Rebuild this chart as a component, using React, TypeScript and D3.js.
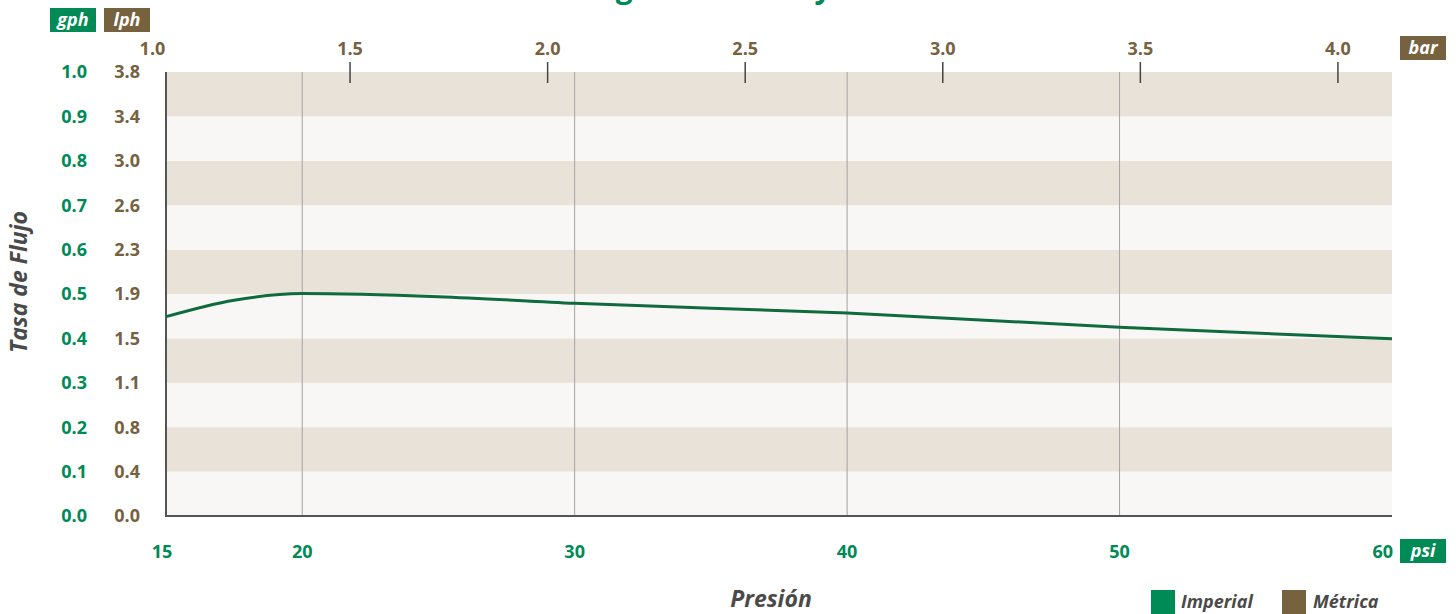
import React from "react";
import * as d3 from "d3";

const psiTicks = [15, 20, 30, 40, 50, 60];
const barTicks = [1.0, 1.5, 2.0, 2.5, 3.0, 3.5, 4.0];
const gphTicks = [0.0, 0.1, 0.2, 0.3, 0.4, 0.5, 0.6, 0.7, 0.8, 0.9, 1.0];
const lphLabels = ["0.0", "0.4", "0.8", "1.1", "1.5", "1.9", "2.3", "2.6", "3.0", "3.4", "3.8"];
const gridPsi = [20, 30, 40, 50];
const curvePsi = [15, 17.5, 20, 25, 30, 40, 50, 60];
const curveGph = [0.449, 0.486, 0.501, 0.494, 0.479, 0.457, 0.425, 0.399];
const PSI_PER_BAR = 14.5038;

const GREEN = "#008a55";
const BROWN = "#76623f";
const LINE = "#0f6b3d";
const GRAY_TEXT = "#4a4a4a";
const FONT = "'Open Sans', sans-serif";

export default function App() {
  const W = 1456, H = 614;
  const x = d3.scaleLinear().domain([15, 60]).range([166, 1392]);
  const y = d3.scaleLinear().domain([0, 1]).range([516, 72]);
  const bands = gphTicks.slice(0, -1).map((v, i) => ({ v0: v, v1: gphTicks[i + 1], i }));
  const line = d3
    .line<number>()
    .x((_, i) => x(curvePsi[i]))
    .y((d) => y(d))
    .curve(d3.curveMonotoneX);

  return (
    <div style={{ position: "absolute", left: 0, top: 0 }}>
      <svg width={W} height={H} style={{ display: "block", fontFamily: FONT }}>
        {/* title (mostly off-canvas) */}
        <text x={755} y={-2} textAnchor="middle" fill={GREEN} fontSize={30} fontWeight={700}>
          Rango de Caudal y Presión
        </text>
        {/* bands */}
        {bands.map((b) => (
          <rect
            key={b.i}
            x={x(15)}
            y={y(b.v1)}
            width={x(60) - x(15)}
            height={y(b.v0) - y(b.v1)}
            fill={b.i % 2 === 0 ? "#f8f7f5" : "#e9e2d8"}
          />
        ))}
        {/* vertical gridlines */}
        {gridPsi.map((p) => (
          <line key={p} x1={x(p)} x2={x(p)} y1={y(1)} y2={y(0)} stroke="#a3a3a3" strokeWidth={1} />
        ))}
        {/* axes */}
        <line x1={x(15)} x2={x(15)} y1={y(1)} y2={y(0) + 1} stroke="#555" strokeWidth={2} />
        <line x1={x(15)} x2={x(60)} y1={y(0)} y2={y(0)} stroke="#555" strokeWidth={2} />
        {/* top bar ticks */}
        {barTicks.map((b, i) => {
          const px = x(b * PSI_PER_BAR);
          return (
            <g key={b}>
              {i > 0 && <line x1={px} x2={px} y1={62} y2={83} stroke="#444" strokeWidth={1.5} />}
              <text x={px} y={55} textAnchor="middle" fill={BROWN} fontSize={18} fontWeight={700}>
                {b.toFixed(1)}
              </text>
            </g>
          );
        })}
        {/* curve */}
        <path d={line(curveGph) || ""} fill="none" stroke={LINE} strokeWidth={3} />
        {/* y labels */}
        {gphTicks.map((v, i) => (
          <g key={v}>
            <text x={87} y={y(v)} dy="0.36em" textAnchor="end" fill={GREEN} fontSize={18} fontWeight={700}>
              {v.toFixed(1)}
            </text>
            <text x={140} y={y(v)} dy="0.36em" textAnchor="end" fill={BROWN} fontSize={18} fontWeight={700}>
              {lphLabels[i]}
            </text>
          </g>
        ))}
        {/* bottom psi labels */}
        {psiTicks.map((p, i) => (
          <text
            key={p}
            x={i === psiTicks.length - 1 ? x(p) + 1 : i === 0 ? x(p) - 4 : x(p)}
            y={558}
            textAnchor={i === psiTicks.length - 1 ? "end" : "middle"}
            fill={GREEN}
            fontSize={18}
            fontWeight={700}
          >
            {p}
          </text>
        ))}
        {/* badges */}
        <rect x={50} y={8} width={46} height={24} fill={GREEN} />
        <text x={73} y={26} textAnchor="middle" fill="#fff" fontSize={18} fontWeight={700} fontStyle="italic">gph</text>
        <rect x={104} y={8} width={46} height={24} fill={BROWN} />
        <text x={127} y={26} textAnchor="middle" fill="#fff" fontSize={18} fontWeight={700} fontStyle="italic">lph</text>
        <rect x={1400} y={36} width={46} height={24} fill={BROWN} />
        <text x={1423} y={54} textAnchor="middle" fill="#fff" fontSize={18} fontWeight={700} fontStyle="italic">bar</text>
        <rect x={1400} y={539} width={46} height={24} fill={GREEN} />
        <text x={1423} y={557} textAnchor="middle" fill="#fff" fontSize={18} fontWeight={700} fontStyle="italic">psi</text>
        {/* axis titles */}
        <text
          transform={`translate(27,282) rotate(-90)`}
          textAnchor="middle"
          fill={GRAY_TEXT}
          fontSize={23}
          fontWeight={700}
          fontStyle="italic"
        >
          Tasa de Flujo
        </text>
        <text x={771} y={607} textAnchor="middle" fill={GRAY_TEXT} fontSize={23} fontWeight={700} fontStyle="italic">
          Presión
        </text>
        {/* legend */}
        <rect x={1151} y={590} width={24} height={24} fill={GREEN} />
        <text x={1181} y={608} fill={GRAY_TEXT} fontSize={18} fontWeight={700} fontStyle="italic">Imperial</text>
        <rect x={1282} y={590} width={24} height={24} fill={BROWN} />
        <text x={1313} y={608} fill={GRAY_TEXT} fontSize={18} fontWeight={700} fontStyle="italic">Métrica</text>
      </svg>
    </div>
  );
}
